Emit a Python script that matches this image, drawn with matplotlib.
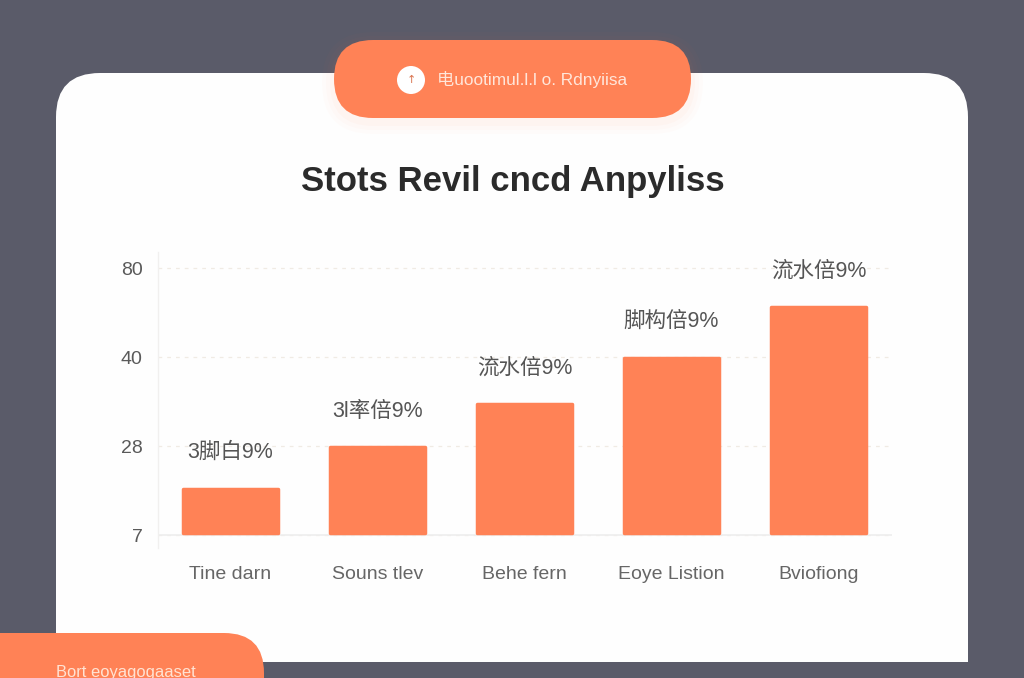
import numpy as np
import matplotlib
matplotlib.use("Agg")
import matplotlib.pyplot as plt
from matplotlib.patches import FancyBboxPatch, Rectangle, Circle

plt.rcParams["font.family"] = ["Liberation Sans", "Noto Sans CJK SC", "DejaVu Sans"]

categories = ["Tine darn", "Souns tlev", "Behe fern", "Eoye Listion", "Bviofiong"]
values = [18.0, 27.7, 33.7, 39.9, 62.4]
bar_labels = ["3脚白9%", "3l率倍9%", "流水倍9%", "脚构倍9%", "流水倍9%"]
y_ticks = [7, 28, 40, 80]
y_ticklabels = ["7", "28", "40", "80"]
title = "Stots Revil cncd Anpyliss"
pill_text = "电uootimul.l.l o. Rdnyiisa"
footer_text = "Bort eoyagogaaset"

BG = "#5a5b69"
ORANGE = "#ff8256"
W, H = 1024, 678

fig = plt.figure(figsize=(W / 100, H / 100), dpi=100, facecolor=BG)

# full figure layer in pixels for the card and the pills
bg = fig.add_axes([0, 0, 1, 1], zorder=0)
bg.set_xlim(0, W)
bg.set_ylim(H, 0)
bg.axis("off")

bg.add_patch(FancyBboxPatch((56, 73), 912, 700, boxstyle="round,pad=0,rounding_size=44",
                            fc="#fefefe", ec="none", zorder=1))
bg.add_patch(Rectangle((0, 662), W, 20, fc=BG, ec="none", zorder=2))

# soft shadow under the top pill, only shows on the card
for grow, a in zip([12, 8, 4], [0.02, 0.025, 0.03]):
    bg.add_patch(FancyBboxPatch((334 - grow, 44 - grow), 357 + 2 * grow, 78 + 2 * grow,
                                boxstyle=f"round,pad=0,rounding_size={39 + grow}",
                                fc=ORANGE, ec="none", alpha=a, zorder=3))
bg.add_patch(FancyBboxPatch((334, 40), 357, 78, boxstyle="round,pad=0,rounding_size=39",
                            fc=ORANGE, ec="none", zorder=4))
bg.add_patch(Circle((411, 80), 14, fc="white", ec="none", zorder=5))
bg.text(411, 80, "↑", color="#d9734f", fontsize=8, ha="center", va="center",
        family="DejaVu Sans", zorder=6)
bg.text(532.5, 80, pill_text, color="#ffe6da", fontsize=12.4, ha="center", va="center", zorder=6)

bg.text(512.5, 181, title, color="#2b2b2b", fontsize=25, fontweight="bold",
        ha="center", va="center", zorder=6)

# footer tab, runs off the bottom left corner
bg.add_patch(FancyBboxPatch((-60, 633), 324, 120, boxstyle="round,pad=0,rounding_size=40",
                            fc=ORANGE, ec="none", zorder=4))
bg.text(56, 672, footer_text, color="#ffe3d3", fontsize=11.9, ha="left", va="center", zorder=6)

# chart, axis stops are evenly spaced even though the numbers are not
left, right, top, bottom = 158, 892, 252, 548
ax = fig.add_axes([left / W, 1 - bottom / H, (right - left) / W, (bottom - top) / H],
                  zorder=1, facecolor="none")

xp = np.array([-93, 7, 28, 40, 80, 200])
fp = np.array([-4.76, 0, 1, 2, 3, 6])
ax.set_yscale("function", functions=(lambda v: np.interp(v, xp, fp),
                                     lambda p: np.interp(p, fp, xp)))

# bars start a hair above the baseline so the thick round edge sits on it
bar_floor = 7.45
bars = ax.bar(categories, np.array(values) - bar_floor, bottom=bar_floor, width=0.645,
              color=ORANGE, edgecolor=ORANGE, linewidth=2.5, joinstyle="round", zorder=3)

ax.set_xlim(-0.493, 4.5)
ax.set_ylim(4, 87.2)
ax.set_yticks(y_ticks)
ax.set_yticklabels(y_ticklabels)
ax.minorticks_off()
ax.tick_params(axis="y", length=0, pad=11, labelsize=14, labelcolor="#5a5a5a")
ax.tick_params(axis="x", length=0, pad=13, labelsize=14, labelcolor="#666666")

for s in ["top", "right", "bottom"]:
    ax.spines[s].set_visible(False)
ax.spines["left"].set_color("#f1f0ef")
ax.spines["left"].set_linewidth(1)

ax.grid(axis="y", color="#f0ebe4", linestyle=(0, (3, 4)), linewidth=0.9, zorder=1)
ax.axhline(7, color="#eeeeee", linewidth=1.2, zorder=2)

for i, (v, lab) in enumerate(zip(values, bar_labels)):
    ax.annotate(lab, (i, v), xytext=(0, 26), textcoords="offset points", ha="center",
                va="center", fontsize=15.5, color="#555555", zorder=4)

fig.savefig("out.png", dpi=100, facecolor=BG)
